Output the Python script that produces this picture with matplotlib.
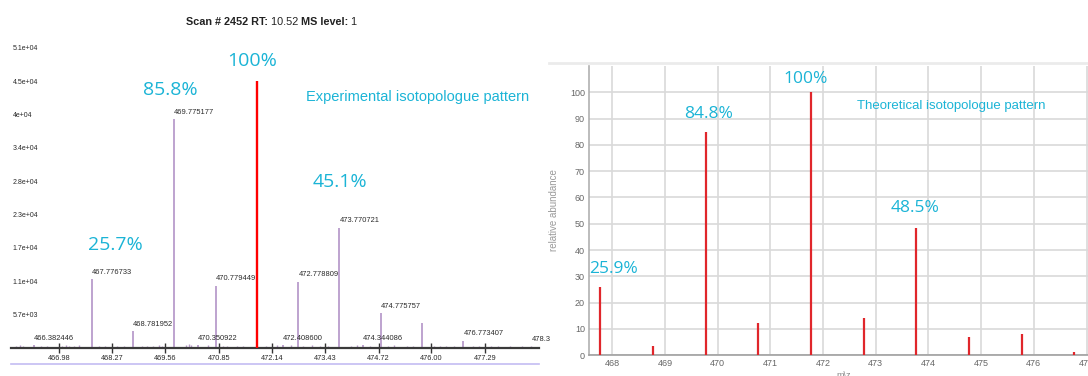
import matplotlib
matplotlib.use("Agg")
import matplotlib.pyplot as plt
from matplotlib.lines import Line2D

# experimental scan: labelled centroid peaks (m/z, intensity)
exp_mz = [466.382446, 467.776733, 468.781952, 469.775177, 470.350922,
          470.779449, 472.408600, 472.778809, 473.770721, 474.344086,
          474.775757, 475.775100, 476.773407]
exp_int = [420, 11650, 2830, 38870, 380,
           10520, 450, 11200, 20430, 400,
           5840, 4140, 1190]
exp_labels = ["466.382446", "467.776733", "468.781952", "469.775177", "470.350922",
              "470.779449", "472.408600", "472.778809", "473.770721", "474.344086",
              "474.775757", "", "476.773407"]
base_mz = 471.7725
base_int = 45300

# baseline noise
noise_mz = [465.95, 466.05, 466.12, 466.20, 466.55, 466.70, 467.05, 467.15, 467.22,
            467.35, 467.48, 467.95, 468.10, 468.40, 468.55, 469.00, 469.12, 469.25,
            469.40, 469.48, 470.05, 470.12, 470.18, 470.60, 470.95, 471.05, 471.30,
            471.45, 472.00, 472.25, 472.60, 472.90, 473.10, 473.30, 473.50, 474.05,
            474.20, 474.50, 474.95, 475.10, 475.40, 475.55, 476.05, 476.20, 476.35,
            476.55, 477.00, 477.15, 477.45, 477.60, 477.90, 478.20, 478.40]
noise_int = [250, 380, 300, 200, 300, 350, 280, 420, 360, 300, 380, 260, 330, 280,
             350, 300, 260, 330, 400, 360, 520, 600, 380, 420, 300, 350, 280, 330,
             300, 380, 430, 350, 480, 300, 260, 300, 380, 330, 300, 420, 280, 350,
             330, 300, 360, 300, 280, 330, 300, 260, 300, 280, 330]

y_ticks = [51000 * k / 9 for k in range(1, 10)]
y_tick_labels = ["5.7e+03", "1.1e+04", "1.7e+04", "2.3e+04", "2.8e+04",
                 "3.4e+04", "4e+04", "4.5e+04", "5.1e+04"]
x_ticks = [466.98, 468.27, 469.56, 470.85, 472.14, 473.43, 474.72, 476.00, 477.29]
x_tick_labels = ["466.98", "468.27", "469.56", "470.85", "472.14",
                 "473.43", "474.72", "476.00", "477.29"]

# scan header: (text, weight)
header = [("Scan # 2452 RT:", "bold"), (" 10.52 ", "normal"),
          ("MS level:", "bold"), (" 1", "normal")]

# percent of base peak, with label offset (px) from the peak top
exp_pct = [(467.776733, 11650, "25.7%", 24, 34),
           (469.775177, 38870, "85.8%", -4, 29),
           (471.7725, 45300, "100%", -4.5, 20),
           (473.770721, 20430, "45.1%", 1, 46)]

# theoretical isotope pattern (relative abundance)
theo_mz = [467.77, 468.77, 469.77, 470.77, 471.77, 472.77, 473.77, 474.77, 475.77, 476.77]
theo_ab = [25.9, 3.6, 84.8, 12.2, 100.0, 14.1, 48.5, 6.8, 8.0, 1.1]
theo_pct = [(467.77, 25.9, "25.9%", 13, 18),
            (469.77, 84.8, "84.8%", 3, 18),
            (471.77, 100.0, "100%", -5, 13),
            (473.77, 48.5, "48.5%", -1, 20)]

sans = ["Liberation Sans", "DejaVu Sans"]
pct_font = ["Open Sans", "DejaVu Sans"]
cyan = "#1bb4d6"
lilac = "#b99ccb"
PT = 72.0 / 100  # points per pixel

fig = plt.figure(figsize=(10.88, 3.76), dpi=100)
W, H = 1088.0, 376.0

# ---- experimental spectrum ----
ax = fig.add_axes([11 / W, 1 - 347.7 / H, 528 / W, 300 / H])
ax.set_xlim(465.824, 478.602)
ax.set_ylim(0, 51000)
ax.vlines(noise_mz, 0, noise_int, color=lilac, lw=1.0)
ax.vlines(exp_mz, 0, exp_int, color=lilac, lw=1.3)
ax.vlines([base_mz], 0, [base_int], color="#ff0000", lw=1.7, zorder=3)
for mz, h, lab in zip(exp_mz, exp_int, exp_labels):
    if lab:
        ax.annotate(lab, (mz, h), xytext=(0, 2.5), textcoords="offset points",
                    ha="left", va="bottom", fontsize=5.4, family=sans, color="#2a2a2a")
ax.text(478.426, 800, "478.3", ha="left", va="bottom", fontsize=5.4,
        family=sans, color="#2a2a2a", clip_on=False)
for mz, h, txt, dx, dy in exp_pct:
    ax.annotate(txt, (mz, h), xytext=(dx * PT, dy * PT), textcoords="offset points",
                ha="center", va="center", fontsize=14, family=pct_font, color=cyan)
ax.text((306 - 11) / 528, 0.836, "Experimental isotopologue pattern",
        transform=ax.transAxes, ha="left", va="center", fontsize=10.5,
        family=sans, color=cyan)

for s in ["top", "right", "left"]:
    ax.spines[s].set_visible(False)
ax.spines["bottom"].set_color("#3a3a3a")
ax.spines["bottom"].set_linewidth(1.6)
ax.set_xticks(x_ticks, x_tick_labels)
ax.tick_params(axis="x", direction="inout", length=7, width=1, color="#333333",
               labelsize=5.3, pad=1.5, labelcolor="#2a2a2a")
for lab in ax.get_xticklabels():
    lab.set_family(sans)
ax.set_yticks(y_ticks, y_tick_labels)
ax.tick_params(axis="y", length=0, pad=-1, labelsize=5.0, labelcolor="#2a2a2a")
for lab in ax.get_yticklabels():
    lab.set_ha("left")
    lab.set_family(sans)
ax.set_facecolor("none")

# header pieces chained left to right
prev = fig.text(186 / W, 1 - 22 / H, header[0][0], ha="left", va="center",
                fontsize=7.8, fontweight=header[0][1], family=sans, color="#222222")
for txt, wt in header[1:]:
    prev = ax.annotate(txt, xy=(1, 0.5), xycoords=prev, ha="left", va="center",
                       fontsize=7.8, fontweight=wt, family=sans, color="#222222",
                       annotation_clip=False)
fig.add_artist(Line2D([11 / W, 539 / W], [1 - 364.3 / H] * 2, color="#c4bcf2", lw=1.2))

# ---- theoretical pattern ----
ax2 = fig.add_axes([589 / W, 1 - 355.3 / H, 511 / W, 289.6 / H])
ax2.set_xlim(467.558, 477.255)
ax2.set_ylim(0, 110.1)
ax2.vlines(theo_mz, 0, theo_ab, color="#e0262b", lw=1.6, zorder=3)
for mz, h, txt, dx, dy in theo_pct:
    ax2.annotate(txt, (mz, h), xytext=(dx * PT, dy * PT), textcoords="offset points",
                 ha="center", va="center", fontsize=12.5, family=pct_font, color=cyan)
ax2.text((856.7 - 589) / 511, 0.86, "Theoretical isotopologue pattern",
         transform=ax2.transAxes, ha="left", va="center", fontsize=9.5,
         family=sans, color=cyan)
ax2.set_xticks(range(468, 478))
ax2.set_yticks(range(0, 101, 10))
ax2.grid(True, color="#d9d9d9", lw=1.2)
ax2.set_axisbelow(True)
for s in ["top", "right"]:
    ax2.spines[s].set_visible(False)
ax2.spines["left"].set_color("#b0b0b0")
ax2.spines["bottom"].set_color("#a0a0a0")
ax2.spines["left"].set_linewidth(1.2)
ax2.spines["bottom"].set_linewidth(1.2)
ax2.tick_params(length=0, labelsize=6.5, labelcolor="#666666", pad=3)
for lab in ax2.get_xticklabels() + ax2.get_yticklabels():
    lab.set_family(sans)
ax2.set_ylabel("relative abundance", fontsize=7, color="#9a9a9a",
               family=sans, labelpad=8)
ax2.set_xlabel("m\\z", fontsize=6.5, color="#888888", family=sans)
ax2.xaxis.set_label_coords(255 / 511, -0.055)
fig.add_artist(Line2D([549 / W, 1.0], [1 - 63.3 / H] * 2, color="#ebebeb", lw=2))

fig.savefig("out.png", dpi=100)
